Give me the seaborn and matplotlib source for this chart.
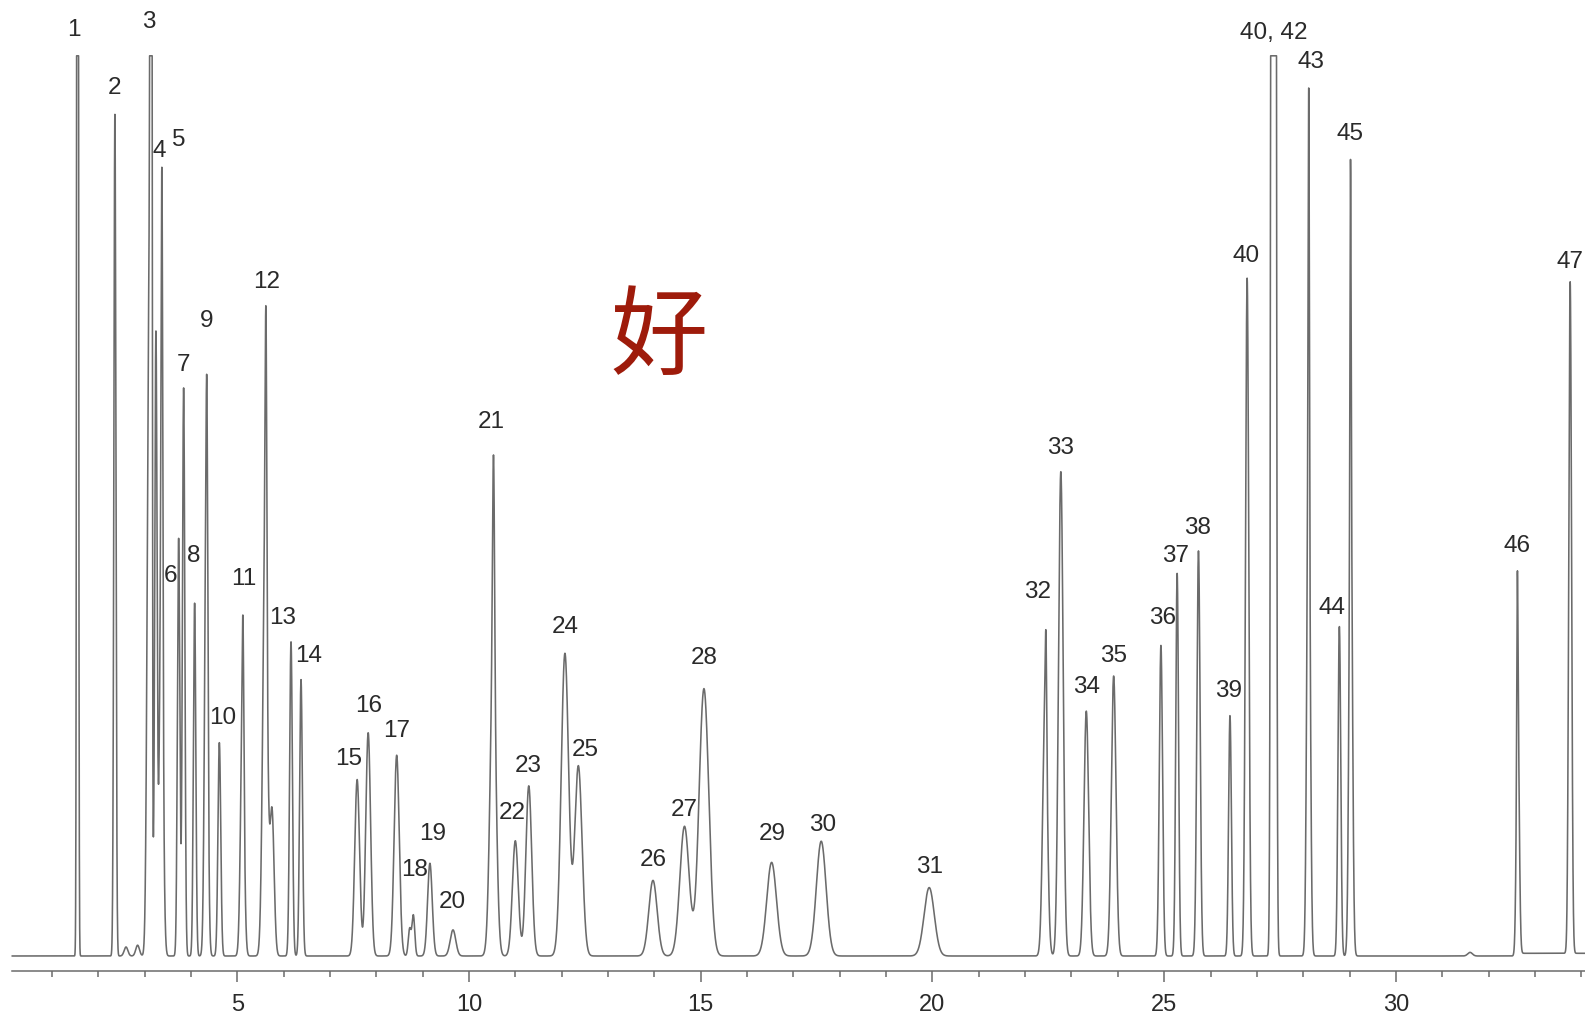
"""
Gas chromatogram with numbered peaks (recreated figure).
"""
import numpy as np
import pandas as pd
import matplotlib
matplotlib.use("Agg")
import matplotlib.pyplot as plt
from matplotlib.ticker import FixedLocator
import seaborn as sns

# ── data ─────────────────────────────────────────────────────────────────────
# peak components: retention time (min), height (% of detector range), sigma (min)
peak_rt = [1.555, 2.36, 2.60, 2.85, 3.14, 3.10, 3.245, 3.375, 3.36, 3.735,
           3.843, 4.08, 4.347, 4.33, 4.614, 5.124, 5.11, 5.62, 5.60, 5.75,
           6.16, 6.376, 7.587, 7.825, 8.44, 8.72, 8.80, 9.157, 9.655,
           10.53, 10.52, 11.0, 11.29, 12.07, 12.36, 13.97, 14.65, 15.07,
           16.53, 17.60, 19.93, 22.45, 22.43, 22.77, 23.32, 23.91, 24.93,
           25.28, 25.74, 26.42, 26.79, 27.36, 28.12, 28.115, 28.78, 29.02,
           29.025, 31.60, 32.62, 32.63, 33.76]
peak_height = [300, 93.5, 1.0, 1.2, 300, 75, 68.7, 50, 40, 46.4,
               63.1, 39.2, 20, 48, 23.7, 14, 25, 30, 45, 16,
               34.9, 30.7, 19.6, 24.8, 22.3, 3.0, 4.5, 10.3, 2.9,
               24, 32, 12.8, 18.9, 33.6, 21.1, 8.4, 14.4, 29.7,
               10.4, 12.75, 7.6, 10, 28, 53.8, 27.2, 31.1, 34.5,
               42.5, 45.0, 26.7, 75.3, 1000, 37, 60, 36.6, 34,
               55, 0.4, 16, 28, 74.6]
peak_sigma = [0.015, 0.022, 0.04, 0.04, 0.015, 0.04, 0.025, 0.018, 0.04, 0.026,
              0.026, 0.026, 0.018, 0.035, 0.03, 0.018, 0.04, 0.018, 0.05, 0.045,
              0.03, 0.03, 0.052, 0.052, 0.055, 0.03, 0.03, 0.05, 0.06,
              0.022, 0.065, 0.063, 0.063, 0.08, 0.08, 0.09, 0.1, 0.105,
              0.105, 0.105, 0.11, 0.015, 0.05, 0.05, 0.05, 0.05, 0.035,
              0.03, 0.035, 0.03, 0.035, 0.03, 0.012, 0.035, 0.03, 0.012,
              0.035, 0.05, 0.012, 0.03, 0.03]

# baseline rise after peak 46
baseline_step_rt = 32.66
baseline_step = 0.3

run_start, run_end = 0.14, 34.1
clip_level = 100.0          # detector saturation

# peak numbers and where they are printed (time, signal)
label_text = ["1", "2", "3", "4", "5", "6", "7", "8", "9", "10", "11", "12",
              "13", "14", "15", "16", "17", "18", "19", "20", "21", "22",
              "23", "24", "25", "26", "27", "28", "29", "30", "31", "32",
              "33", "34", "35", "36", "37", "38", "39", "40", "40, 42",
              "43", "44", "45", "46", "47"]
label_rt = [1.48, 2.36, 3.10, 3.32, 3.73, 3.56, 3.84, 4.06, 4.35, 4.69, 5.13,
            5.63, 5.98, 6.53, 7.40, 7.84, 8.43, 8.82, 9.21, 9.65, 10.48,
            10.94, 11.27, 12.07, 12.51, 13.97, 14.65, 15.07, 16.55, 17.62,
            19.93, 22.27, 22.77, 23.32, 23.91, 24.96, 25.24, 25.72, 26.38,
            26.77, 27.36, 28.17, 28.62, 29.02, 32.62, 33.76]
label_y = [102.9, 96.4, 103.8, 89.4, 90.7, 42.2, 65.7, 44.4, 70.5, 26.4, 41.9,
           74.9, 37.6, 33.3, 21.9, 27.8, 25.0, 9.6, 13.5, 6.0, 59.3, 15.9,
           21.1, 36.6, 22.9, 10.7, 16.2, 33.1, 13.5, 14.6, 9.9, 40.4, 56.4,
           29.9, 33.3, 37.6, 44.4, 47.6, 29.4, 77.8, 102.5, 99.3, 38.7,
           91.3, 45.6, 77.1]

minor_ticks = list(range(1, 35))
major_ticks = [5, 10, 15, 20, 25, 30]

# ── build trace ──────────────────────────────────────────────────────────────
t = np.linspace(run_start, run_end, 24000)
rt = np.array(peak_rt)[:, None]
hh = np.array(peak_height)[:, None]
ss = np.array(peak_sigma)[:, None]
signal = (hh * np.exp(-0.5 * ((t - rt) / ss) ** 2)).sum(axis=0)
signal += np.where(t > baseline_step_rt, baseline_step, 0.0)
signal = np.minimum(signal, clip_level)
trace = pd.DataFrame({"time": t, "signal": signal})

# ── plot ─────────────────────────────────────────────────────────────────────
sns.set_style("white")
plt.rcParams["font.family"] = ["Liberation Sans", "Noto Sans CJK SC", "DejaVu Sans"]

LINE = "#6b6b6b"
TEXT = "#2a2a2a"

fig = plt.figure(figsize=(15.85, 10.18), dpi=100)
ax = fig.add_axes([0, 0.0465, 1, 0.9535])

sns.lineplot(data=trace, x="time", y="signal", ax=ax, color=LINE, lw=1.15,
             estimator=None, sort=False)

for txt, x, y in zip(label_text, label_rt, label_y):
    ax.text(x, y, txt, ha="center", va="center", fontsize=17.5, color=TEXT,
            clip_on=False)

ax.text(0.416, 0.667, "好", transform=fig.transFigure, ha="center", va="center",
        fontsize=70, color="#9e1b0b", family=["Noto Sans CJK SC"])

ax.set_xlim(-0.119, 34.08)
ax.set_ylim(-1.63, 106.2)
ax.xaxis.set_major_locator(FixedLocator(major_ticks))
ax.xaxis.set_minor_locator(FixedLocator(minor_ticks))
ax.tick_params(axis="x", which="major", direction="out", length=8, width=1.1,
               color=LINE, labelsize=17, labelcolor=TEXT, pad=9, bottom=True)
ax.tick_params(axis="x", which="minor", direction="out", length=4.5, width=1.1,
               color=LINE, bottom=True)
ax.set_yticks([])
ax.set_xlabel("")
ax.set_ylabel("")
for side in ("top", "right", "left"):
    ax.spines[side].set_visible(False)
ax.spines["bottom"].set_color(LINE)
ax.spines["bottom"].set_linewidth(1.1)
ax.spines["bottom"].set_bounds(0.14, 34.08)

fig.savefig("out.png", dpi=100, facecolor="white")
